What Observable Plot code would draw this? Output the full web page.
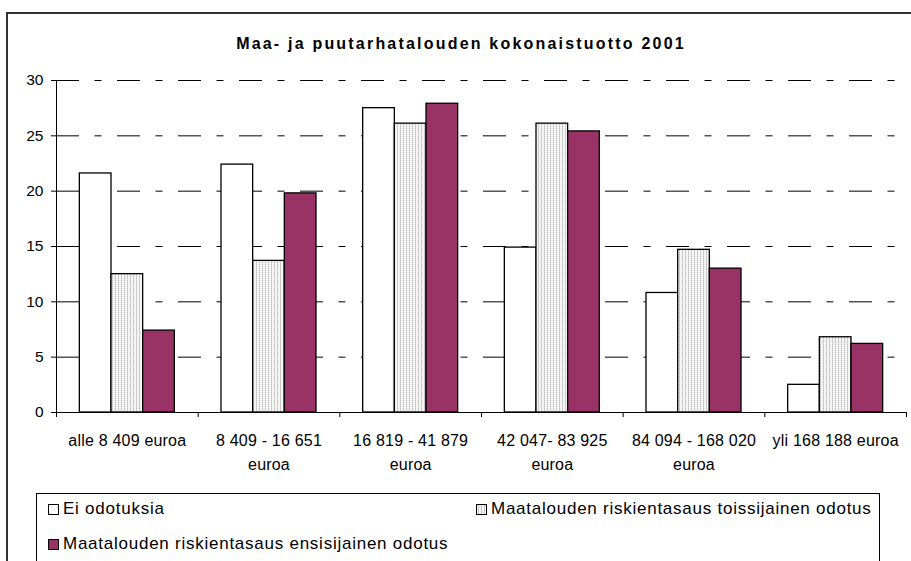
<!DOCTYPE html>
<html>
<head>
<meta charset="utf-8">
<script src="https://cdn.jsdelivr.net/npm/d3@7"></script>
<script src="https://cdn.jsdelivr.net/npm/@observablehq/plot@0.6"></script>
<style>
  html, body { margin: 0; padding: 0; background: #fff; width: 911px; height: 561px; overflow: hidden; }
  body { position: relative; font-family: "Liberation Sans", Arial, sans-serif; color: #000; }
  #frameTop { position: absolute; left: 6px; top: 12px; width: 905px; height: 2px; background: #333; z-index: 5; }
  #frameLeft { position: absolute; left: 6px; top: 12px; width: 2px; height: 549px; background: #333; z-index: 5; }
  #title { position: absolute; left: 0; width: 922px; top: 35px; text-align: center; font-weight: bold; font-size: 16px; letter-spacing: 2.2px; z-index: 3; }
  #chart { position: absolute; left: 0; top: 0; z-index: 1; }
  #legend { position: absolute; left: 36px; top: 493px; width: 842px; height: 90px; border: 1px solid #000; background: #fff; font-size: 17px; letter-spacing: 0.75px; z-index: 2; }
  .item { position: absolute; display: flex; align-items: center; white-space: nowrap; }
  .sw { width: 9px; height: 9px; border: 1px solid #000; margin-right: 4px; box-sizing: content-box; }
</style>
</head>
<body>
<div id="chart"></div>
<div id="frameTop"></div>
<div id="frameLeft"></div>
<div id="title">Maa- ja puutarhatalouden kokonaistuotto 2001</div>
<div id="legend"></div>
<script>
// ---- data ----
const categories = [
  "alle 8 409 euroa",
  "8 409 - 16 651\neuroa",
  "16 819 - 41 879\neuroa",
  "42 047- 83 925\neuroa",
  "84 094 - 168 020\neuroa",
  "yli 168 188 euroa"
];
const seriesNames = [
  "Ei odotuksia",
  "Maatalouden riskientasaus toissijainen odotus",
  "Maatalouden riskientasaus ensisijainen odotus"
];
const eiOdotuksia  = [21.6, 22.4, 27.5, 14.9, 10.8, 2.5];
const toissijainen = [12.5, 13.7, 26.1, 26.1, 14.7, 6.8];
const ensisijainen = [7.4, 19.8, 27.9, 25.4, 13.0, 6.2];
const yTicks = [0, 5, 10, 15, 20, 25, 30];

const seriesValues = [eiOdotuksia, toissijainen, ensisijainen];
const fills = ["#ffffff", "url(#dotpat)", "#993366"];

const rows = [];
seriesValues.forEach((vals, k) => vals.forEach((v, i) => rows.push({i, k, v})));

// layout inside each category band (band = 1 unit)
const groupFrac = 95 / 141.67;
const off = (1 - groupFrac) / 2;
const bw = groupFrac / 3;

const font = '"Liberation Sans", Arial, sans-serif';

const plot = Plot.plot({
  width: 911,
  height: 480,
  marginLeft: 56,
  marginRight: 5,
  marginTop: 80,
  marginBottom: 68,
  style: {fontFamily: font, fontSize: "15px", color: "#000", background: "transparent", overflow: "visible"},
  x: {type: "linear", domain: [0, categories.length], axis: null, label: null},
  y: {domain: [0, 30], axis: null, label: null},
  marks: [
    Plot.ruleY(yTicks.filter(d => d > 0), {stroke: "#000", strokeWidth: 1, strokeDasharray: "23,15.5,7,15.5"}),
    Plot.rectY(rows, {
      x1: d => d.i + off + d.k * bw,
      x2: d => d.i + off + (d.k + 1) * bw,
      y1: 0,
      y2: "v",
      fill: d => fills[d.k],
      stroke: "#000",
      strokeWidth: 1.3
    }),
    Plot.axisY({ticks: yTicks, tickSize: 5, tickPadding: 8, fontSize: 15.5, stroke: "#000", label: null}),
    Plot.axisX({ticks: d3.range(categories.length + 1), tickSize: 5, tickFormat: () => "", stroke: "#000", label: null}),
    Plot.ruleX([0], {y1: 0, y2: 30, stroke: "#000", strokeWidth: 1}),
    Plot.ruleY([0], {stroke: "#000", strokeWidth: 1}),
    Plot.text(categories, {
      x: (d, i) => i + 0.5,
      y: () => 0,
      text: d => d,
      lineAnchor: "top",
      dy: 16,
      lineHeight: 1.5,
      fontSize: 16,
      fill: "#000"
    })
  ]
});

plot.insertAdjacentHTML("afterbegin",
  '<defs><pattern id="dotpat" width="3" height="2" patternUnits="userSpaceOnUse">' +
  '<rect width="3" height="2" fill="#f4f4f4"/>' +
  '<rect x="1" y="0" width="1" height="1" fill="#bdbdbd"/>' +
  '<rect x="1" y="1" width="1" height="1" fill="#d8d8d8"/>' +
  '</pattern></defs>');

// slight horizontal spread of the category labels, like the original
plot.querySelectorAll('g[font-size="16"] text').forEach(t => t.setAttribute("letter-spacing", "0.2"));

document.getElementById("chart").appendChild(plot);

// legend
const legend = document.getElementById("legend");
const legendPos = [[11, 5], [439, 5], [11, 40]];
const swFills = ["#ffffff", "repeating-linear-gradient(90deg,#f4f4f4 0 1px,#c8c8c8 1px 2px,#f4f4f4 2px 3px)", "#993366"];
seriesNames.forEach((name, k) => {
  const it = document.createElement("div");
  it.className = "item";
  it.style.left = legendPos[k][0] + "px";
  it.style.top = legendPos[k][1] + "px";
  const sw = document.createElement("div");
  sw.className = "sw";
  sw.style.background = swFills[k];
  const tx = document.createElement("span");
  tx.textContent = name;
  it.appendChild(sw);
  it.appendChild(tx);
  legend.appendChild(it);
});
</script>
</body>
</html>
